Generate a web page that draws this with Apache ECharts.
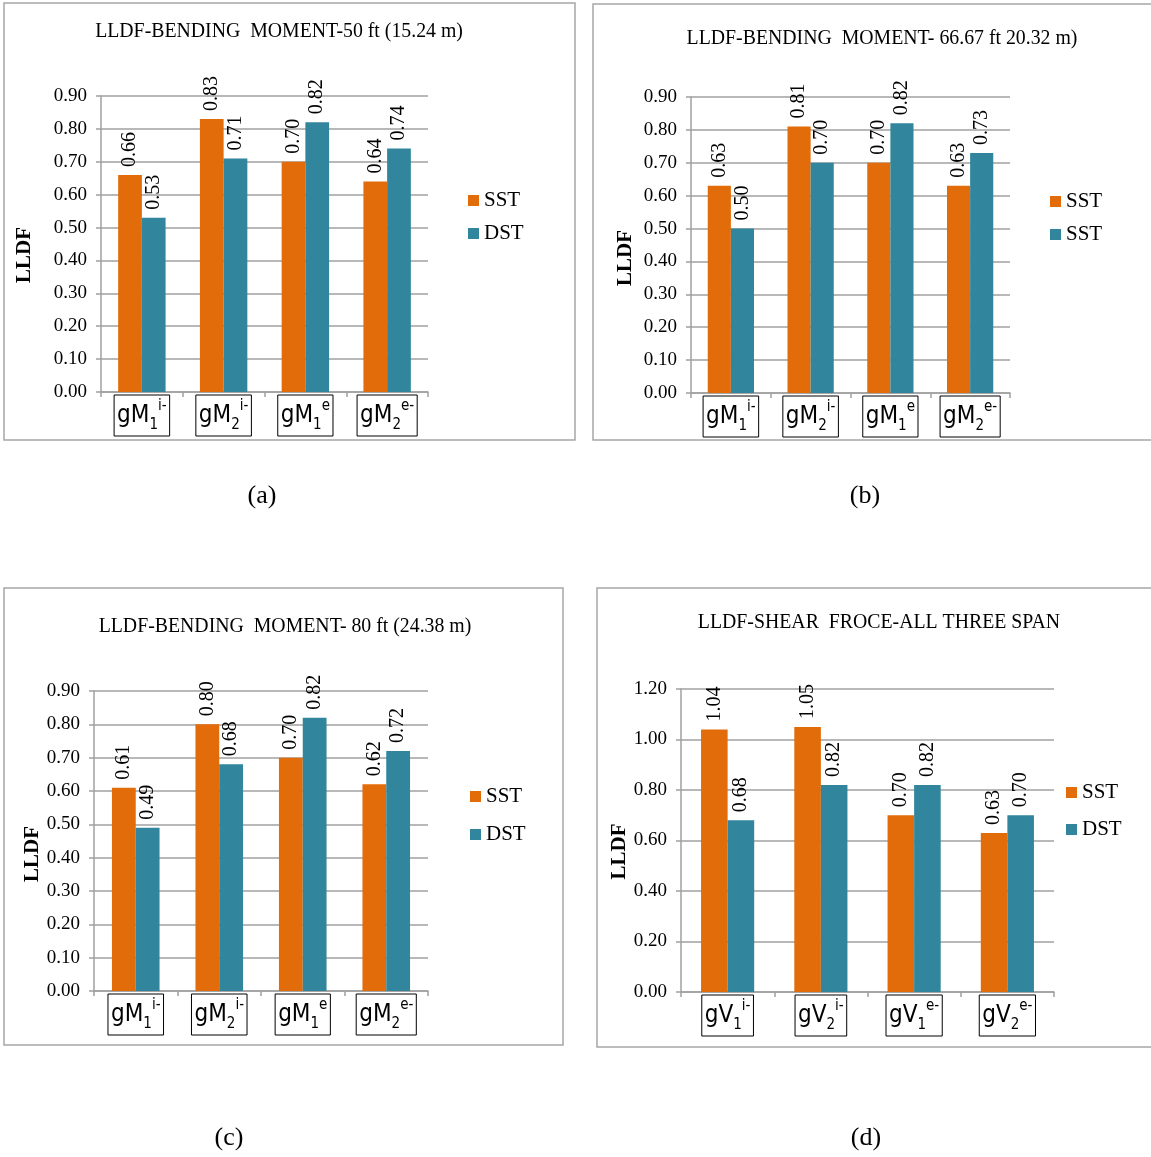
<!DOCTYPE html>
<html>
<head>
<meta charset="utf-8">
<script src="https://cdn.jsdelivr.net/npm/echarts@6/dist/echarts.min.js"></script>
<style>
  html, body { margin: 0; padding: 0; background: #ffffff; }
  #chart { width: 1151px; height: 1157px; }
</style>
</head>
<body>
<div id="chart"></div>
<script>
// Category labels: base, subscript digit after the base, superscript after '^'
const momentCategories = ['gM1^i-', 'gM2^i-', 'gM1^e', 'gM2^e-'];
const shearCategories  = ['gV1^i-', 'gV2^i-', 'gV1^e-', 'gV2^e-'];

// LLDF values, single-span (SST) and double-span (DST)
const sst50ft = [0.66, 0.83, 0.70, 0.64];
const dst50ft = [0.53, 0.71, 0.82, 0.74];
const sst66ft = [0.63, 0.81, 0.70, 0.63];
const dst66ft = [0.50, 0.70, 0.82, 0.73];
const sst80ft = [0.61, 0.80, 0.70, 0.62];
const dst80ft = [0.49, 0.68, 0.82, 0.72];
const sstShear = [1.04, 1.05, 0.70, 0.63];
const dstShear = [0.68, 0.82, 0.82, 0.70];

const seriesNames = ['SST', 'DST'];
const legendLabels66 = ['SST', 'SST'];

const panelTitles = [
  'LLDF-BENDING  MOMENT-50 ft (15.24 m)',
  'LLDF-BENDING  MOMENT- 66.67 ft 20.32 m)',
  'LLDF-BENDING  MOMENT- 80 ft (24.38 m)',
  'LLDF-SHEAR  FROCE-ALL THREE SPAN'
];
const captions = ['(a)', '(b)', '(c)', '(d)'];

const ORANGE = '#E36C0A';
const TEAL = '#31859C';
const GRID_GRAY = '#A0A0A0';
const SERIF = '"Liberation Serif", "Times New Roman", serif';
const NARROW = '"Liberation Sans Narrow", "DejaVu Sans Condensed", "Liberation Sans", Arial, sans-serif';

const panels = [
  { cats: momentCategories, sst: sst50ft, dst: dst50ft, max: 0.9, step: 0.1,
    grid: { left: 101, top: 96, width: 327, height: 296 },
    legend: { left: 468, top: 190, gap: 12 }, legendText: seriesNames,
    nameGap: 66, nameShift: 22, gapPct: '42%',
    box: [4, 3, 571, 437], title: [279, 31], caption: [262, 496] },
  { cats: momentCategories, sst: sst66ft, dst: dst66ft, max: 0.9, step: 0.1,
    grid: { left: 691, top: 97, width: 319, height: 296 },
    legend: { left: 1050, top: 191, gap: 12 }, legendText: legendLabels66,
    nameGap: 55, nameShift: 26, gapPct: '42%',
    box: [593, 4, 570, 436], title: [882, 38], caption: [865, 496] },
  { cats: momentCategories, sst: sst80ft, dst: dst80ft, max: 0.9, step: 0.1,
    grid: { left: 94, top: 691, width: 334, height: 300 },
    legend: { left: 470, top: 786, gap: 17 }, legendText: seriesNames,
    nameGap: 48, nameShift: 26, gapPct: '43%',
    box: [4, 588, 559, 457], title: [285, 626], caption: [229, 1138] },
  { cats: shearCategories, sst: sstShear, dst: dstShear, max: 1.2, step: 0.2,
    grid: { left: 681, top: 689, width: 373, height: 303 },
    legend: { left: 1066, top: 782, gap: 16 }, legendText: seriesNames,
    nameGap: 41, nameShift: 22, gapPct: '43%',
    box: [597, 588, 560, 459], title: [879, 622], caption: [866, 1138] }
];

function categoryRich(name) {
  const m = name.match(/^(g[MV])(\d)\^(.+)$/);
  return '{b|' + m[1] + '}{sub|' + m[2] + '}{sup|' + m[3] + '}';
}

const option = {
  animation: false,
  backgroundColor: '#ffffff',
  textStyle: { fontFamily: SERIF },
  grid: [], xAxis: [], yAxis: [], series: [], legend: [], graphic: []
};

panels.forEach((p, i) => {
  option.grid.push(Object.assign({ containLabel: false }, p.grid));

  option.xAxis.push({
    type: 'category', gridIndex: i, data: p.cats,
    axisLine: { show: true, lineStyle: { color: GRID_GRAY, width: 1.5 } },
    axisTick: { show: true, length: 5, lineStyle: { color: GRID_GRAY, width: 1.5 } },
    axisLabel: {
      interval: 0, margin: 3, color: '#000',
      borderColor: '#000', borderWidth: 1, padding: [4, 3, 3, 3],
      formatter: categoryRich,
      rich: {
        b: { fontFamily: NARROW, fontSize: 24, lineHeight: 34, color: '#000' },
        sub: { fontFamily: NARROW, fontSize: 15, verticalAlign: 'bottom', color: '#000' },
        sup: { fontFamily: NARROW, fontSize: 15, verticalAlign: 'top', color: '#000' }
      }
    }
  });

  option.yAxis.push({
    type: 'value', gridIndex: i, min: 0, max: p.max, interval: p.step,
    name: 'LLDF', nameLocation: 'middle', nameGap: p.nameGap,
    nameTextStyle: { fontFamily: SERIF, fontSize: 21, fontWeight: 'bold', color: '#000',
                     padding: [0, p.nameShift, 0, 0] },
    axisLine: { show: true, lineStyle: { color: GRID_GRAY, width: 1.5 } },
    axisTick: { show: true, length: 5, lineStyle: { color: GRID_GRAY, width: 1.5 } },
    axisLabel: { margin: 14, fontFamily: SERIF, fontSize: 19, color: '#000',
                 formatter: v => v.toFixed(2) },
    splitLine: { show: true, lineStyle: { color: GRID_GRAY, width: 1.5 } }
  });

  const valueLabel = {
    show: true, position: 'top', rotate: 90, align: 'left', verticalAlign: 'middle',
    distance: 8, fontFamily: SERIF, fontSize: 20, color: '#000',
    formatter: q => q.value.toFixed(2)
  };

  [p.sst, p.dst].forEach((vals, k) => {
    option.series.push({
      type: 'bar', name: seriesNames[k] + (i ? '#' + i : ''),
      xAxisIndex: i, yAxisIndex: i, data: vals,
      barGap: '0%', barCategoryGap: p.gapPct,
      itemStyle: { color: k ? TEAL : ORANGE },
      label: valueLabel
    });
  });

  const labels = p.legendText;
  option.legend.push({
    left: p.legend.left, top: p.legend.top, orient: 'vertical',
    itemWidth: 11, itemHeight: 11, itemGap: p.legend.gap, padding: 0,
    icon: 'rect', selectedMode: false,
    data: seriesNames.map(n => n + (i ? '#' + i : '')),
    formatter: name => labels[seriesNames.indexOf(name.split('#')[0])],
    textStyle: { fontFamily: SERIF, fontSize: 21, color: '#000', lineHeight: 20 }
  });

  option.graphic.push({
    type: 'rect', silent: true, z: -1,
    shape: { x: p.box[0], y: p.box[1], width: p.box[2], height: p.box[3] },
    style: { fill: 'none', stroke: '#A6A6A6', lineWidth: 1.5 }
  });
  option.graphic.push({
    type: 'text', silent: true, x: p.title[0], y: p.title[1], scaleX: 0.9,
    style: { text: panelTitles[i], font: '22px ' + SERIF, fill: '#000',
             textAlign: 'center', textVerticalAlign: 'middle', align: 'center', verticalAlign: 'middle' }
  });
  option.graphic.push({
    type: 'text', silent: true, x: p.caption[0], y: p.caption[1],
    style: { text: captions[i], font: '26px ' + SERIF, fill: '#000',
             textAlign: 'center', textVerticalAlign: 'middle', align: 'center', verticalAlign: 'middle' }
  });
});

const chart = echarts.init(document.getElementById('chart'), null, { renderer: 'canvas' });
chart.setOption(option);
</script>
</body>
</html>
